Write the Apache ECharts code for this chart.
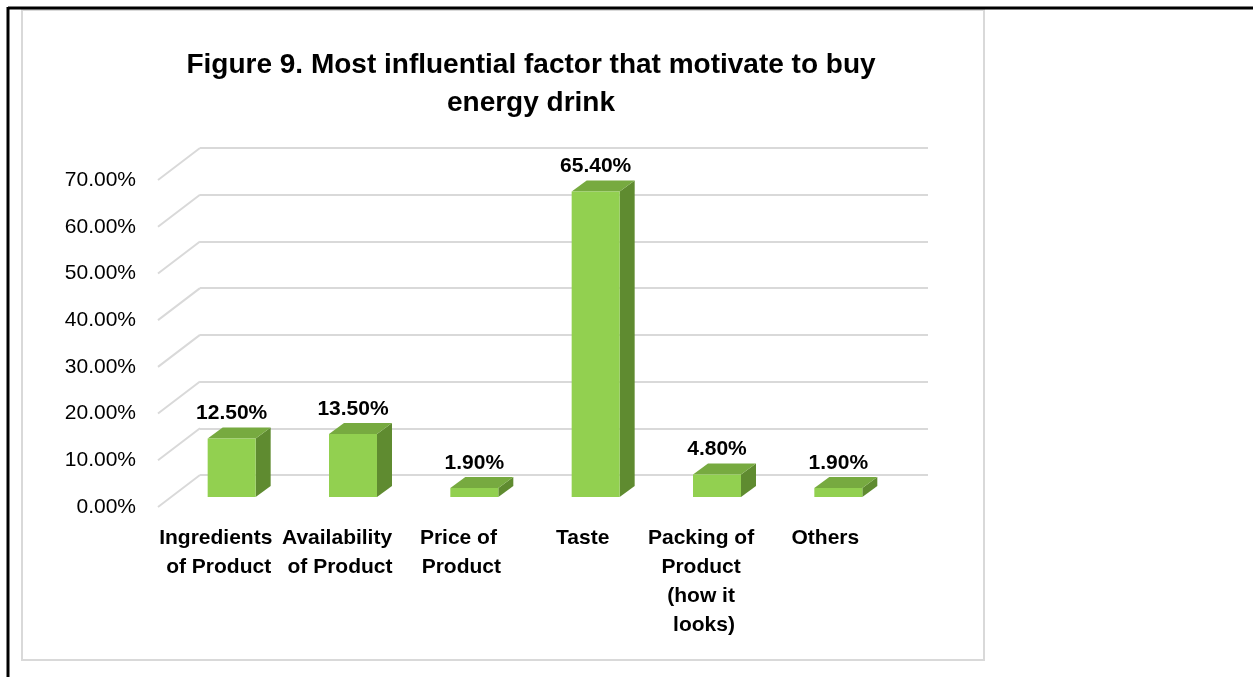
<!DOCTYPE html>
<html>
<head>
<meta charset="utf-8">
<script src="https://cdn.jsdelivr.net/npm/echarts@6/dist/echarts.min.js"></script>
<style>
    html, body { margin: 0; padding: 0; background: #fff; }
    #chart { width: 1253px; height: 677px; }
</style>
</head>
<body>
<div id="chart"></div>
<script>
    // 数据
    var categories = ['Ingredients of Product', 'Availability of Product', 'Price of Product',
        'Taste', 'Packing of Product (how it looks)', 'Others'];
    var shares = [12.5, 13.5, 1.9, 65.4, 4.8, 1.9];
    var yTicks = [0, 10, 20, 30, 40, 50, 60, 70];

    var FONT = '"Liberation Sans", Arial, sans-serif';
    // 3D 透视偏移
    var WALL_DX = -42, WALL_DY = 32;   // 侧墙/地面深度
    var BAR_DX = -29, BAR_DY = 22;     // 柱子正面相对后墙
    var DEPTH_X = 15, DEPTH_Y = -11;   // 柱子厚度
    var BAR_W = 48;

    var myChart = echarts.init(document.getElementById('chart'));

    var option = {
        animation: false,
        title: {
            text: 'Figure 9. Most influential factor that motivate to buy\nenergy drink',
            left: 526,
            top: 41,
            textAlign: 'center',
            textStyle: {
                fontFamily: FONT,
                fontSize: 28,
                fontWeight: 'bold',
                lineHeight: 38,
                color: '#000'
            }
        },
        // 后墙 (网格线) 和 前面 (标签)
        grid: [
            { left: 200, top: 148, width: 728, height: 327 },
            { left: 158, top: 180, width: 728, height: 327 }
        ],
        xAxis: [{
            type: 'category',
            gridIndex: 0,
            data: categories,
            axisLine: { show: false },
            axisTick: { show: false },
            axisLabel: { show: false }
        }, {
            type: 'category',
            gridIndex: 1,
            data: categories,
            axisLine: { show: false },
            axisTick: { show: false },
            axisLabel: {
                interval: 0,
                margin: 17,
                width: 120,
                overflow: 'break',
                fontFamily: FONT,
                fontSize: 21,
                fontWeight: 'bold',
                lineHeight: 29,
                color: '#000'
            }
        }],
        yAxis: [{
            type: 'value',
            gridIndex: 0,
            min: 0,
            max: 70,
            interval: 10,
            axisLine: { show: false },
            axisTick: { show: false },
            axisLabel: { show: false },
            splitLine: { lineStyle: { color: '#d9d9d9', width: 2 } }
        }, {
            type: 'value',
            gridIndex: 1,
            min: 0,
            max: 70,
            interval: 10,
            axisLine: { show: false },
            axisTick: { show: false },
            splitLine: { show: false },
            axisLabel: {
                margin: 22,
                fontFamily: FONT,
                fontSize: 21,
                color: '#000',
                formatter: function (v) { return v.toFixed(2) + '%'; }
            }
        }],
        series: [{
            // 左侧墙的斜线
            type: 'custom',
            xAxisIndex: 0,
            yAxisIndex: 0,
            silent: true,
            data: yTicks.map(function (v) { return [0, v]; }),
            renderItem: function (params, api) {
                var y = api.coord([0, api.value(1)])[1];
                var x = params.coordSys.x;
                return {
                    type: 'line',
                    shape: { x1: x, y1: y, x2: x + WALL_DX, y2: y + WALL_DY },
                    style: { stroke: '#d9d9d9', lineWidth: 2 }
                };
            }
        }, {
            // 3D 柱子
            type: 'custom',
            xAxisIndex: 0,
            yAxisIndex: 0,
            data: shares.map(function (v, i) { return [i, v]; }),
            renderItem: function (params, api) {
                var i = api.value(0), v = api.value(1);
                var base = api.coord([i, 0]);
                var top = api.coord([i, v]);
                var cx = base[0] + BAR_DX;
                var x0 = cx - BAR_W / 2, x1 = cx + BAR_W / 2;
                var yb = base[1] + BAR_DY, yt = top[1] + BAR_DY;
                return {
                    type: 'group',
                    children: [{
                        type: 'polygon',
                        shape: { points: [[x1, yt], [x1 + DEPTH_X, yt + DEPTH_Y], [x1 + DEPTH_X, yb + DEPTH_Y], [x1, yb]] },
                        style: { fill: '#5f8b30' }
                    }, {
                        type: 'polygon',
                        shape: { points: [[x0, yt], [x1, yt], [x1 + DEPTH_X, yt + DEPTH_Y], [x0 + DEPTH_X, yt + DEPTH_Y]] },
                        style: { fill: '#77aa40' }
                    }, {
                        type: 'rect',
                        shape: { x: x0, y: yt, width: BAR_W, height: yb - yt },
                        style: { fill: '#92d050' }
                    }, {
                        type: 'text',
                        x: cx,
                        y: yt - 25,
                        style: {
                            text: v.toFixed(2) + '%',
                            align: 'center',
                            verticalAlign: 'middle',
                            fontFamily: FONT,
                            fontSize: 21,
                            fontWeight: 'bold',
                            fill: '#000'
                        }
                    }]
                };
            }
        }],
        // 外框
        graphic: [{
            type: 'rect',
            shape: { x: 22, y: 10, width: 962, height: 650 },
            style: { fill: 'none', stroke: '#d9d9d9', lineWidth: 2 },
            silent: true
        }, {
            type: 'line',
            shape: { x1: 8, y1: 8, x2: 1253, y2: 8 },
            style: { stroke: '#000', lineWidth: 3 },
            silent: true
        }, {
            type: 'line',
            shape: { x1: 8, y1: 7, x2: 8, y2: 677 },
            style: { stroke: '#000', lineWidth: 3 },
            silent: true
        }]
    };

    myChart.setOption(option);
</script>
</body>
</html>
